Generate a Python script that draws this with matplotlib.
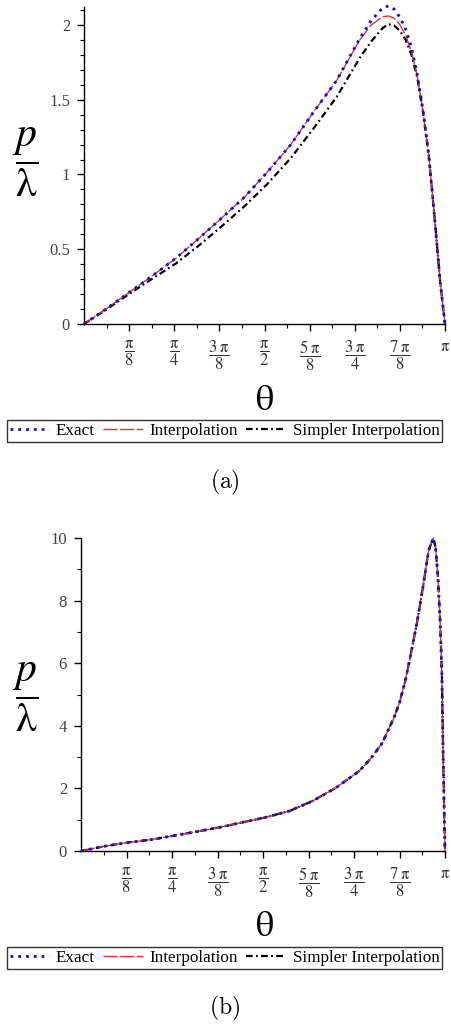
"""Pressure ratio p/lambda versus theta: exact vs interpolations."""
import numpy as np
import matplotlib
matplotlib.use("Agg")
import matplotlib.pyplot as plt
from matplotlib.ticker import FixedLocator, MultipleLocator

plt.rcParams['font.family'] = ['Liberation Serif', 'DejaVu Serif']
plt.rcParams['mathtext.fontset'] = 'stix'

PI = np.pi

# panel (a)
theta_a = [0, 0.2, 0.4, 0.6, 0.8, 1.0, 1.2, 1.4, 1.6, 1.8, 2.0, 2.2, 2.4, 2.5,
           2.6, 2.65, 2.7, 2.75, 2.8, 2.85, 2.9, 2.95, 3.0, 3.05, 3.1, PI]
exact_a = [0, 0.105, 0.215, 0.325, 0.44, 0.573, 0.71, 0.851, 1.02, 1.20, 1.42,
           1.63, 1.91, 2.03, 2.115, 2.127, 2.105, 2.05, 1.97, 1.85, 1.67, 1.43,
           1.13, 0.72, 0.28, 0]
interp_a = [0, 0.105, 0.215, 0.325, 0.44, 0.573, 0.71, 0.851, 1.02, 1.20, 1.42,
            1.63, 1.90, 2.00, 2.055, 2.06, 2.045, 2.00, 1.93, 1.82, 1.66, 1.425,
            1.13, 0.72, 0.28, 0]
simpler_a = [0, 0.10, 0.205, 0.305, 0.405, 0.525, 0.655, 0.79, 0.94, 1.11, 1.31,
             1.52, 1.78, 1.89, 1.98, 2.005, 1.995, 1.96, 1.90, 1.80, 1.65, 1.42,
             1.13, 0.72, 0.28, 0]

# panel (b): the three curves coincide
theta_b = [0, 0.2, 0.4, 0.6, 0.8, 1.0, 1.2, 1.4, 1.6, 1.8, 2.0, 2.2, 2.4, 2.5,
           2.6, 2.7, 2.75, 2.8, 2.85, 2.9, 2.95, 3.0, 3.04, 3.06, 3.08, 3.10,
           3.115, 3.125, 3.135, PI]
exact_b = [0, 0.15, 0.27, 0.36, 0.49, 0.62, 0.76, 0.92, 1.08, 1.28, 1.60, 2.02,
           2.55, 2.95, 3.45, 4.25, 4.75, 5.45, 6.35, 7.3, 8.4, 9.6, 10.0, 9.7,
           8.8, 7.3, 5.6, 3.2, 1.2, 0]
interp_b = list(exact_b)
simpler_b = list(exact_b)

x_ticks = [k * PI / 8 for k in range(1, 9)]
x_labels = [r'$\dfrac{\mathrm{\pi}}{8}$', r'$\dfrac{\mathrm{\pi}}{4}$',
            r'$\dfrac{3\;\mathrm{\pi}}{8}$', r'$\dfrac{\mathrm{\pi}}{2}$',
            r'$\dfrac{5\;\mathrm{\pi}}{8}$', r'$\dfrac{3\;\mathrm{\pi}}{4}$',
            r'$\dfrac{7\;\mathrm{\pi}}{8}$', r'$\mathrm{\pi}$']
names = ['Exact', 'Interpolation', 'Simpler Interpolation']

W, H = 451, 1024
fig = plt.figure(figsize=(W / 100, H / 100), dpi=100)


def fx(px):
    return px / W


def fy(py):
    return 1 - py / H


def panel(rect, theta, ex, it, si, ylim, yticks, yminor, ylabels):
    ax = fig.add_axes(rect)
    ax.plot(theta, ex, color='#1010CC', lw=2.0, ls=(0, (1, 1.8)),
            label=names[0], zorder=4, clip_on=False)
    ax.plot(theta, it, color='#E03030', lw=1.0, ls=(0, (10, 2)),
            label=names[1], zorder=3, clip_on=False)
    ax.plot(theta, si, color='black', lw=1.6, ls=(0, (3, 1.5, 0.8, 1.5)),
            label=names[2], zorder=2, clip_on=False)
    ax.set_xlim(0, PI)
    ax.set_ylim(*ylim)
    for s in ['top', 'right']:
        ax.spines[s].set_visible(False)
    for s in ['left', 'bottom']:
        ax.spines[s].set_linewidth(1.0)
    ax.xaxis.set_major_locator(FixedLocator(x_ticks))
    ax.xaxis.set_minor_locator(FixedLocator([(2 * k + 1) * PI / 16 for k in range(8)]))
    ax.set_xticklabels(x_labels)
    ax.set_yticks(yticks)
    ax.set_yticklabels(ylabels)
    ax.yaxis.set_minor_locator(MultipleLocator(yminor))
    ax.tick_params(axis='x', which='major', length=5, width=1, pad=6,
                   labelsize=12, labelcolor='#333333')
    ax.tick_params(axis='y', which='major', length=5, width=1, pad=5,
                   labelsize=12, labelcolor='#444444')
    ax.tick_params(which='minor', length=3, width=0.8)
    for lab in ax.get_xticklabels():
        lab.set_va('top')
    return ax


ax_a = panel([fx(84), fy(324), fx(445 - 84), (324 - 7) / H],
             theta_a, exact_a, interp_a, simpler_a, (0, 2.12),
             [0, 0.5, 1, 1.5, 2], 0.1, ['0', '0.5', '1', '1.5', '2'])
ax_b = panel([fx(81), fy(851), fx(445 - 81), (851 - 538) / H],
             theta_b, exact_b, interp_b, simpler_b, (0, 10),
             [0, 2, 4, 6, 8, 10], 1, ['0', '2', '4', '6', '8', '10'])

for ax, ylab, th, leg, cap, lab in [(ax_a, 162, 402, 431, 482, '(a)'),
                                     (ax_b, 697, 927, 958, 1008, '(b)')]:
    fig.text(fx(25), fy(ylab), r'$\dfrac{\mathit{p}}{\mathrm{\lambda}}$',
             fontsize=30, ha='center', va='center')
    fig.text(fx(264), fy(th), r'$\mathrm{\theta}$', fontsize=26,
             ha='center', va='center')
    lg = ax.legend(loc='center', bbox_to_anchor=(fx(224.5), fy(leg)),
                   bbox_transform=fig.transFigure, ncol=3, frameon=True,
                   fancybox=False, edgecolor='black', fontsize=12.3,
                   handlelength=2.3, handletextpad=0.4, columnspacing=0.5,
                   borderpad=0.15, borderaxespad=0)
    lg.get_frame().set_linewidth(1.0)
    fig.text(fx(225), fy(cap), r'$\mathrm{' + lab + '}$', fontsize=17,
             ha='center', va='center', math_fontfamily='cm')

fig.savefig('out.png', dpi=100)
